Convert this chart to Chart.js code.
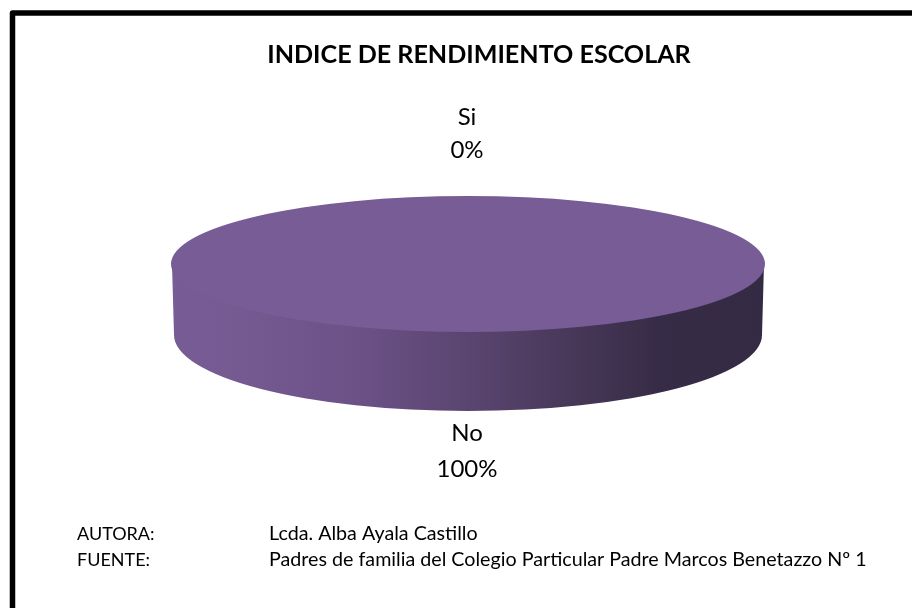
<!DOCTYPE html>
<html><head><meta charset="utf-8">
<style>html,body{margin:0;padding:0;background:#fff;overflow:hidden}canvas{display:block}</style>
<script src="https://cdn.jsdelivr.net/npm/chart.js@4"></script>
</head><body><canvas id="c" width="912" height="608"></canvas>
<script>
const categories = ["Si", "No"];
const values = [0, 100];
const percentLabels = ["0%", "100%"];
const titleText = "INDICE DE RENDIMIENTO ESCOLAR";
const footerLabels = ["AUTORA:", "FUENTE:"];
const footerValues = ["Lcda. Alba Ayala Castillo", "Padres de familia del Colegio Particular Padre Marcos Benetazzo Nº 1"];
const FONT = 'Lato, Carlito, sans-serif';

const pie3d = {
  id: 'pie3d',
  beforeDraw(chart) {
    const ctx = chart.ctx;
    ctx.save();
    ctx.fillStyle = '#fff';
    ctx.fillRect(0, 0, 912, 608);
    ctx.strokeStyle = '#000';
    ctx.lineWidth = 5.5;
    ctx.lineJoin = 'round';
    ctx.strokeRect(12.5, 13, 960, 660);
    ctx.restore();
  },
  beforeDatasetsDraw(chart) {
    const ctx = chart.ctx;
    const arc = chart.getDatasetMeta(0).data[1];
    const cx = arc.x, cy = arc.y, r = arc.outerRadius;
    const sx = 297 / r;
    const g = ctx.createLinearGradient(cx - 297, 0, cx + 297, 0);
    g.addColorStop(0, '#775c95');
    g.addColorStop(0.12, '#755a92');
    g.addColorStop(0.33, '#6a5085');
    g.addColorStop(0.5, '#5a4570');
    g.addColorStop(0.67, '#483859');
    g.addColorStop(0.82, '#372c47');
    g.addColorStop(1, '#342a43');
    ctx.save();
    ctx.fillStyle = g;
    ctx.beginPath();
    ctx.moveTo(cx - 296, cy);
    ctx.lineTo(cx + 296, cy);
    ctx.lineTo(cx + 294, cy + 71);
    ctx.ellipse(cx, cy + 71, 294, r + 8, 0, 0, Math.PI, false);
    ctx.closePath();
    ctx.fill();
    ctx.restore();
    ctx.save();
    ctx.translate(cx, cy);
    ctx.scale(sx, 1);
    ctx.translate(-cx, -cy);
  },
  afterDatasetsDraw(chart) {
    chart.ctx.restore();
    const ctx = chart.ctx;
    ctx.save();
    ctx.fillStyle = '#000';
    ctx.textBaseline = 'middle';
    ctx.textAlign = 'center';
    ctx.font = 'bold 25.1px ' + FONT;
    ctx.fillText(titleText, 479, 55);
    ctx.font = '24px ' + FONT;
    ctx.fillText(categories[0], 467, 117);
    ctx.fillText(percentLabels[0], 467, 150);
    ctx.fillText(categories[1], 467, 433);
    ctx.fillText(percentLabels[1], 467, 469);
    ctx.textAlign = 'left';
    ctx.font = '18px ' + FONT;
    ctx.fillText(footerLabels[0], 77, 534);
    ctx.fillText(footerLabels[1], 77, 560);
    ctx.font = '19.7px ' + FONT;
    ctx.fillText(footerValues[0], 269, 534);
    ctx.fillText(footerValues[1], 269, 560);
    ctx.restore();
  }
};

new Chart(document.getElementById('c'), {
  type: 'pie',
  data: { labels: categories, datasets: [{ data: values, backgroundColor: ['#4f81bd', '#775c95'], borderWidth: 0, clip: false }] },
  options: {
    responsive: false,
    animation: false,
    layout: { padding: { left: 171, right: 147, top: 196, bottom: 276 } },
    plugins: { legend: { display: false }, title: { display: false }, tooltip: { enabled: false } }
  },
  plugins: [pie3d]
});
</script></body></html>
